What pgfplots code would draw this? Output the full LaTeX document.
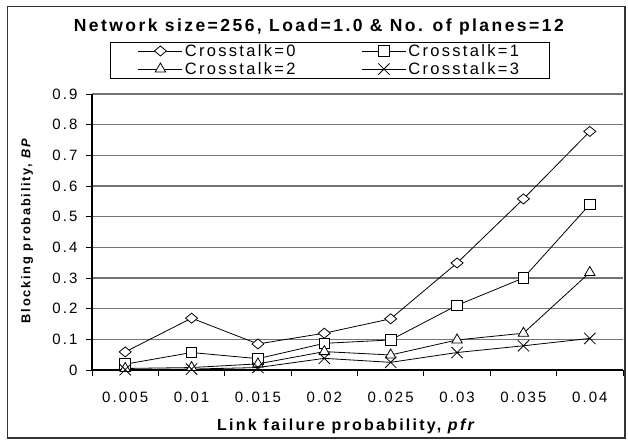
\documentclass[border=0pt]{standalone}
\usepackage{fontspec}
\setmainfont[LetterSpace=14]{Liberation Sans}
\usepackage{pgfplots}
\pgfplotsset{compat=1.18}
\pgfdeclareplotmark{wdiamond}{%
  \pgfpathmoveto{\pgfqpoint{0pt}{5pt}}%
  \pgfpathlineto{\pgfqpoint{6pt}{0pt}}%
  \pgfpathlineto{\pgfqpoint{0pt}{-5pt}}%
  \pgfpathlineto{\pgfqpoint{-6pt}{0pt}}%
  \pgfpathclose
  \pgfusepathqfillstroke}
\begin{document}
\begin{tikzpicture}[x=1pt,y=1pt]
\useasboundingbox (0,0) rectangle (628,440);
\draw[line width=1.6pt, black!80] (7.3,2) rectangle (625,433.3);
\begin{axis}[
  at={(92pt,70pt)}, anchor=south west,
  scale only axis, width=531pt, height=276pt,
  xmin=0.5, xmax=8.5, ymin=0, ymax=0.9,
  axis x line*=bottom, axis y line*=left,
  axis line style={black, line width=1.1pt},
  xtick={0.5,1.5,2.5,3.5,4.5,5.5,6.5,7.5,8.5},
  xticklabels={0.005,0.01,0.015,0.02,0.025,0.03,0.035,0.04,{}},
  xticklabel style={xshift=33.19pt, anchor=base, yshift=-26pt},
  ytick={0,0.1,0.2,0.3,0.4,0.5,0.6,0.7,0.8,0.9},
  yticklabels={0,0.1,0.2,0.3,0.4,0.5,0.6,0.7,0.8,0.9},
  yticklabel style={xshift=-5pt},
  tick align=outside, major tick length=6pt,
  tick style={black, line width=1pt},
  ymajorgrids, grid style={black!55, line width=1.1pt},
  /pgf/number format/assume math mode=true,
  tick label style={font=\fontsize{15}{18}\selectfont},
  title={\textbf{Network size=256, Load=1.0 \& No. of planes=12}},
  title style={at={(axis description cs:0.4294,1.2065)}, anchor=base, font=\fontsize{17.5}{21}\selectfont, inner sep=0pt},
  xlabel={\textbf{Link failure probability, \textit{pfr}}},
  xlabel style={at={(axis description cs:0.4802,-0.2174)}, anchor=base, font=\fontsize{16}{19}\selectfont, inner sep=0pt},
  ylabel={\textbf{Blocking probability, \textit{BP}}},
  ylabel style={at={(axis description cs:-0.1224,0.5072)}, anchor=center, rotate=0, font=\fontsize{12.8}{15}\selectfont, inner sep=0pt},
  legend columns=2,
  legend style={at={(axis description cs:0.4473,1.1232)}, anchor=center,
    draw=black, line width=0.8pt, font=\fontsize{16.5}{19}\selectfont,
    /tikz/every even column/.append style={column sep=64pt},
    inner xsep=28pt, inner ysep=0pt,
    nodes={inner ysep=2.3pt}},
  legend image code/.code={\draw[mark repeat=2,mark phase=2,#1] plot coordinates {(0pt,0pt) (22pt,0pt) (44pt,0pt)};},
  every axis plot/.append style={black, line width=0.8pt, mark options={solid, fill=white, line width=0.8pt}},
  clip=false,
]
\addplot[mark=wdiamond] coordinates {(1,0.059) (2,0.169) (3,0.085) (4,0.120) (5,0.167) (6,0.349) (7,0.558) (8,0.778)};
\addlegendentry{Crosstalk=0}
\addplot[mark=square*, mark size=5.3pt] coordinates {(1,0.019) (2,0.057) (3,0.037) (4,0.087) (5,0.098) (6,0.211) (7,0.300) (8,0.540)};
\addlegendentry{Crosstalk=1}
\addplot[mark=triangle*, mark size=6pt] coordinates {(1,0.005) (2,0.008) (3,0.020) (4,0.060) (5,0.049) (6,0.098) (7,0.120) (8,0.318)};
\addlegendentry{Crosstalk=2}
\addplot[mark=x, mark size=8pt] coordinates {(1,0.001) (2,0.003) (3,0.008) (4,0.038) (5,0.025) (6,0.057) (7,0.079) (8,0.103)};
\addlegendentry{Crosstalk=3}
\end{axis}
\end{tikzpicture}
\end{document}
